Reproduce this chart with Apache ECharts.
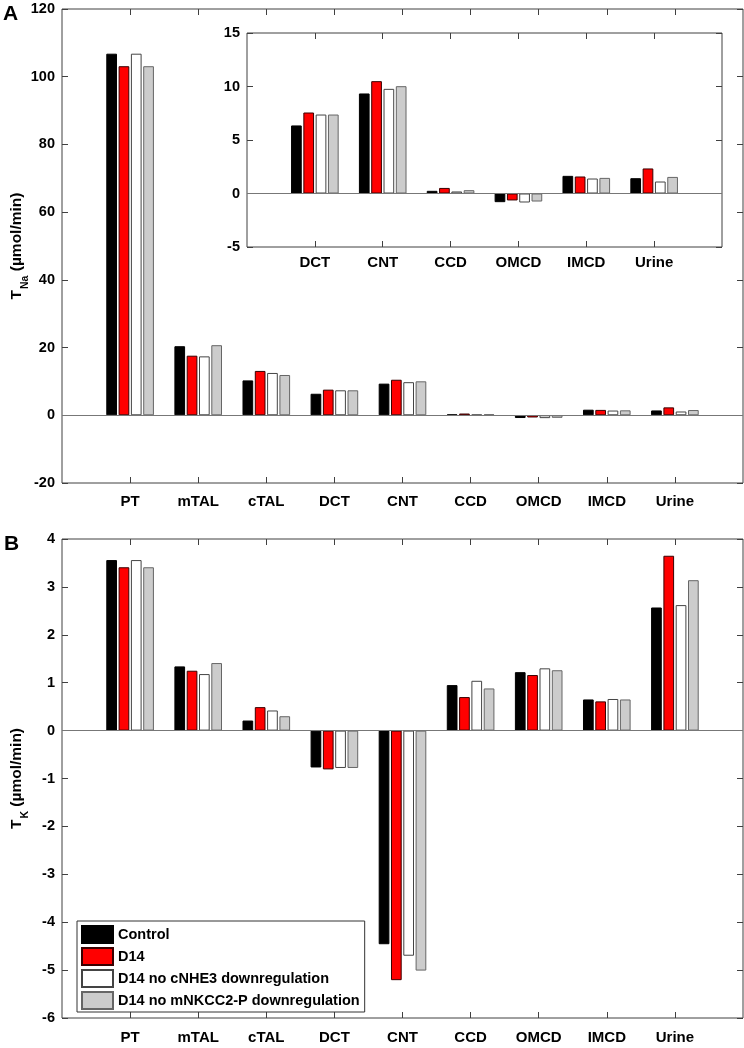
<!DOCTYPE html>
<html>
<head>
<meta charset="utf-8">
<title>T_Na / T_K by segment</title>
<script src="https://cdn.jsdelivr.net/npm/echarts@6/dist/echarts.min.js"></script>
<style>
  html, body { margin: 0; padding: 0; background: #fff; }
  #chart { width: 744px; height: 1048px; }
</style>
</head>
<body>
<div id="chart"></div>
<script>
// nephron segments
const segments = ['PT', 'mTAL', 'cTAL', 'DCT', 'CNT', 'CCD', 'OMCD', 'IMCD', 'Urine'];
const insetSegments = ['DCT', 'CNT', 'CCD', 'OMCD', 'IMCD', 'Urine'];
const seriesNames = ['Control', 'D14', 'D14 no cNHE3 downregulation', 'D14 no mNKCC2-P downregulation'];

// panel A: sodium transport (umol/min)
const naControl = [106.8, 20.4, 10.3, 6.36, 9.35, 0.25, -0.81, 1.65, 1.43];
const naD14 = [103.1, 17.6, 13.1, 7.57, 10.5, 0.52, -0.65, 1.59, 2.34];
const naNoNHE3 = [106.8, 17.4, 12.5, 7.38, 9.78, 0.19, -0.84, 1.40, 1.12];
const naNoNKCC2 = [103.1, 20.7, 11.9, 7.38, 10.03, 0.31, -0.75, 1.46, 1.55];

// panel B: potassium transport (umol/min)
const kControl = [3.56, 1.34, 0.21, -0.77, -4.46, 0.95, 1.22, 0.65, 2.57];
const kD14 = [3.41, 1.25, 0.49, -0.81, -5.21, 0.70, 1.16, 0.61, 3.65];
const kNoNHE3 = [3.56, 1.18, 0.42, -0.78, -4.70, 1.04, 1.30, 0.66, 2.62];
const kNoNKCC2 = [3.41, 1.41, 0.30, -0.78, -5.01, 0.88, 1.26, 0.65, 3.14];

const fills = ['#000000', '#ff0000', '#ffffff', '#cccccc'];
const edges = ['#000000', '#3a0000', '#444444', '#666666'];

const FONT = 'Liberation Sans, Arial, Helvetica, sans-serif';
const AXIS_COLOR = '#404040';

// pad with empty slots so the categories sit at 1..n like the matlab xlim [0 n+1]
function pad(arr, empty) {
  return [empty].concat(arr, [empty]);
}

function xAxes(gridIndex, cats, labelMargin) {
  const data = pad(cats, '');
  const n = data.length;
  const tick = {
    show: true, inside: true, length: 6,
    interval: (i) => i > 0 && i < n - 1,
    lineStyle: { color: AXIS_COLOR }
  };
  return [
    {
      type: 'category', gridIndex, data, boundaryGap: false, position: 'bottom',
      axisLine: { show: false, onZero: false }, axisTick: tick,
      axisLabel: { interval: 0, margin: labelMargin, color: '#000', fontFamily: FONT, fontWeight: 'bold', fontSize: 15 }
    },
    {
      type: 'category', gridIndex, data, boundaryGap: false, position: 'top',
      axisLine: { show: false, onZero: false }, axisTick: tick, axisLabel: { show: false }
    }
  ];
}

function yAxes(gridIndex, min, max, interval, name, nameGap) {
  const tick = { show: true, inside: true, length: 6, lineStyle: { color: AXIS_COLOR } };
  const left = {
    type: 'value', gridIndex, min, max, interval, position: 'left',
    axisLine: { show: false, onZero: false }, splitLine: { show: false }, axisTick: tick,
    axisLabel: { margin: 7, color: '#000', fontFamily: FONT, fontWeight: 'bold', fontSize: 14.5 }
  };
  if (name) {
    left.name = name;
    left.nameLocation = 'middle';
    left.nameGap = nameGap;
    left.nameMoveOverlap = false;
    left.nameTextStyle = {
      color: '#000', fontFamily: FONT, fontWeight: 'bold',
      rich: {
        t: { fontSize: 15.5, fontWeight: 'bold', fontFamily: FONT, color: '#000', lineHeight: 18, verticalAlign: 'top' },
        s: { fontSize: 10.5, fontWeight: 'bold', fontFamily: FONT, color: '#000', lineHeight: 12, padding: [11, 0, 0, 1], verticalAlign: 'top' }
      }
    };
  }
  return [
    left,
    {
      type: 'value', gridIndex, min, max, interval, position: 'right',
      axisLine: { show: false, onZero: false }, splitLine: { show: false }, axisTick: tick, axisLabel: { show: false }
    }
  ];
}

function barSeries(axisIndex, groups) {
  return groups.map((vals, k) => {
    const s = {
      name: seriesNames[k],
      type: 'bar',
      xAxisIndex: axisIndex,
      yAxisIndex: axisIndex,
      data: pad(vals, null),
      barWidth: 10.7,
      barGap: '15%',
      itemStyle: { color: fills[k], borderColor: edges[k], borderWidth: 1 },
      emphasis: { disabled: true },
      animation: false
    };
    if (k === 0) {
      // bar baseline at zero
      s.markLine = {
        silent: true, symbol: 'none', label: { show: false },
        lineStyle: { color: '#777', width: 1, type: 'solid' },
        data: [{ yAxis: 0 }],
        animation: false
      };
    }
    return s;
  });
}

const gridStyle = {
  show: true, borderColor: AXIS_COLOR, borderWidth: 1, backgroundColor: '#fff',
  containLabel: false, outerBoundsMode: 'none'
};

const chart = echarts.init(document.getElementById('chart'), null, { renderer: 'canvas' });

const option = {
  backgroundColor: '#fff',
  animation: false,
  grid: [
    Object.assign({ left: 62, top: 9, width: 681, height: 474 }, gridStyle),
    Object.assign({ left: 247, top: 33, width: 475, height: 214 }, gridStyle),
    Object.assign({ left: 62, top: 539, width: 681, height: 479 }, gridStyle)
  ],
  // each grid owns two x axes (bottom, top) and two y axes (left, right); bottom/left carry data
  xAxis: [].concat(
    xAxes(0, segments, 11),
    xAxes(1, insetSegments, 8),
    xAxes(2, segments, 12)
  ),
  yAxis: [].concat(
    yAxes(0, -20, 120, 20, '{t|T}{s|Na}{t| (µmol/min)}', 35),
    yAxes(1, -5, 15, 5, null, 0),
    yAxes(2, -6, 4, 1, '{t|T}{s|K}{t| (µmol/min)}', 35)
  ),
  legend: {
    data: seriesNames,
    orient: 'vertical',
    left: 77, top: 921,
    icon: 'rect',
    itemWidth: 31, itemHeight: 17, itemGap: 3,
    padding: [4, 5, 2, 4],
    borderColor: '#333', borderWidth: 1, backgroundColor: '#fff',
    selectedMode: false,
    textStyle: { color: '#000', fontFamily: FONT, fontWeight: 'bold', fontSize: 14.5 }
  },
  graphic: [
    { type: 'text', left: 3, top: 4, style: { text: 'A', fontFamily: FONT, fontWeight: 'bold', fontSize: 21, fill: '#000' } },
    { type: 'text', left: 4, top: 534, style: { text: 'B', fontFamily: FONT, fontWeight: 'bold', fontSize: 21, fill: '#000' } }
  ],
  series: [].concat(
    barSeries(0, [naControl, naD14, naNoNHE3, naNoNKCC2]),
    barSeries(2, [naControl.slice(3), naD14.slice(3), naNoNHE3.slice(3), naNoNKCC2.slice(3)]),
    barSeries(4, [kControl, kD14, kNoNHE3, kNoNKCC2])
  )
};

chart.setOption(option);
</script>
</body>
</html>
